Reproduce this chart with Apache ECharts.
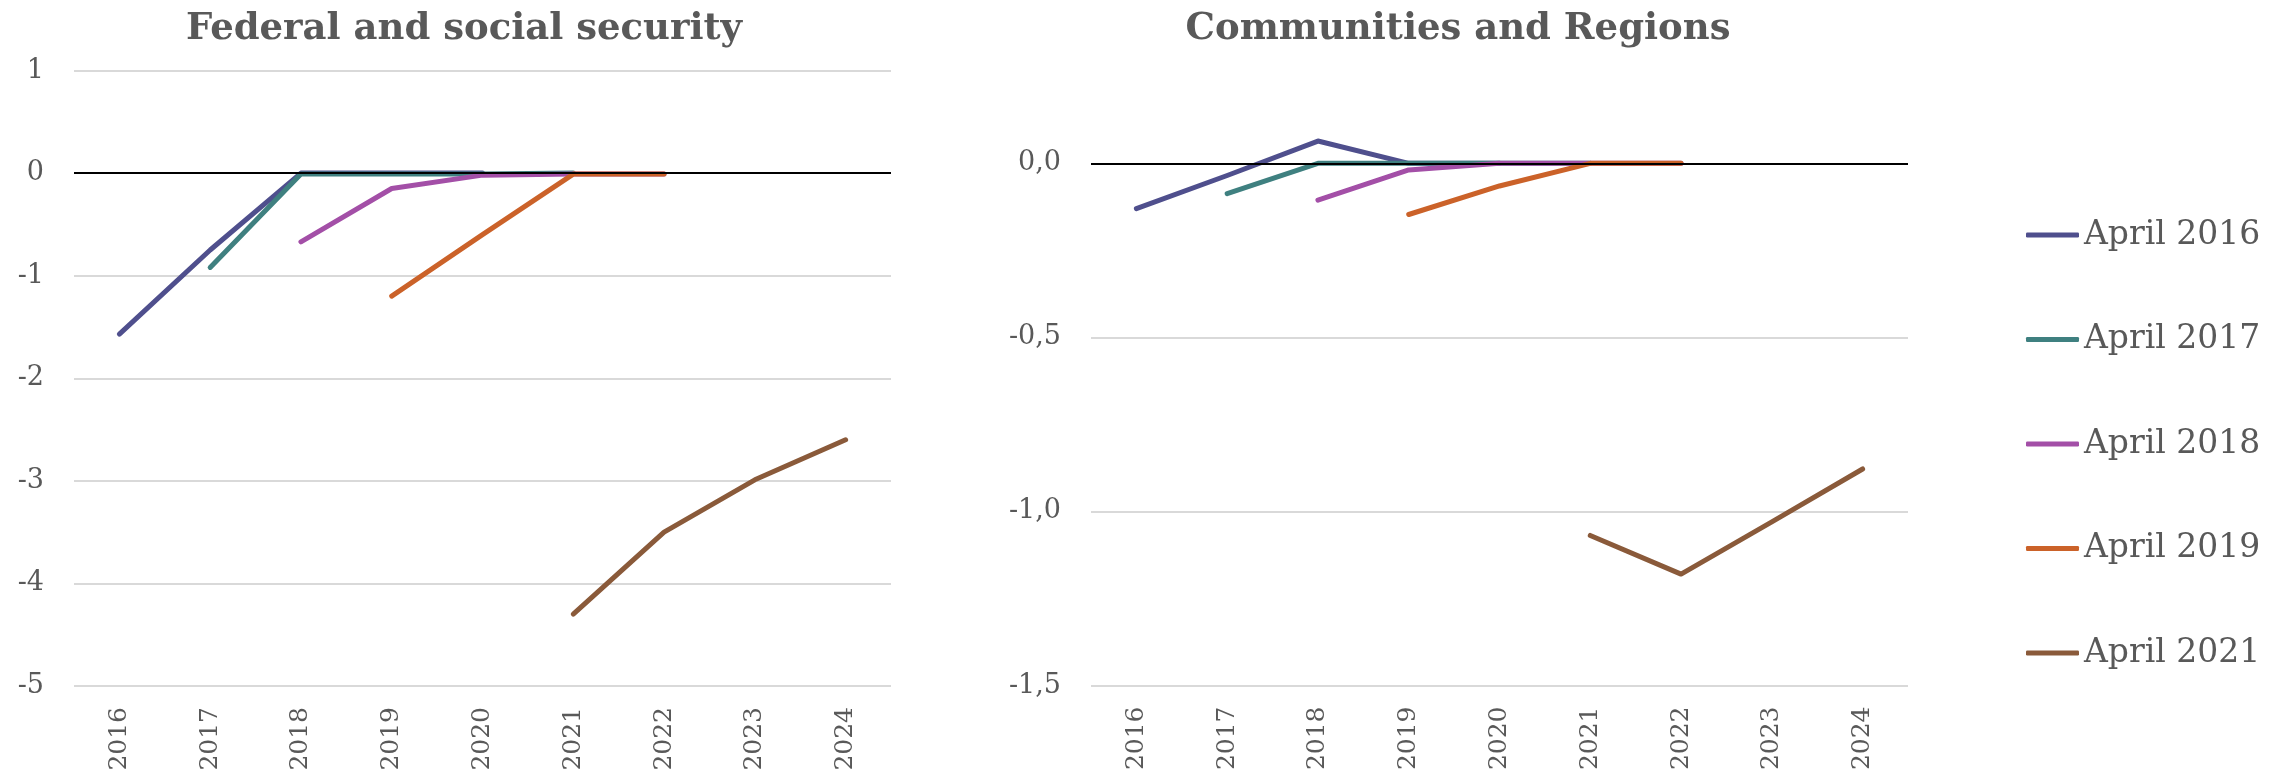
<!DOCTYPE html>
<html>
<head>
<meta charset="utf-8">
<script src="https://cdn.jsdelivr.net/npm/echarts@6/dist/echarts.min.js"></script>
<style>
  html, body { margin: 0; padding: 0; background: #fff; }
  #main { width: 2288px; height: 781px; }
</style>
</head>
<body>
<div id="main"></div>
<script>
// years on the x axis
var years = ['2016', '2017', '2018', '2019', '2020', '2021', '2022', '2023', '2024'];
var seriesNames = ['April 2016', 'April 2017', 'April 2018', 'April 2019', 'April 2021'];
var colors = ['#4F4F8D', '#3F8080', '#A34FA7', '#CB6229', '#8A5A3A'];

// Federal and social security
var fedApr2016 = [-1.57, -0.75, 0, 0, 0, null, null, null, null];
var fedApr2017 = [null, -0.92, -0.01, -0.01, -0.01, 0, null, null, null];
var fedApr2018 = [null, null, -0.67, -0.15, -0.02, -0.01, -0.01, null, null];
var fedApr2019 = [null, null, null, -1.2, -0.6, -0.01, -0.01, null, null];
var fedApr2021 = [null, null, null, null, null, -4.3, -3.5, -2.99, -2.6];

// Communities and Regions
var regApr2016 = [-0.13, -0.035, 0.064, 0, 0, null, null, null, null];
var regApr2017 = [null, -0.087, 0, 0, 0, 0, null, null, null];
var regApr2018 = [null, null, -0.106, -0.019, 0, 0, 0, null, null];
var regApr2019 = [null, null, null, -0.147, -0.065, 0, 0, null, null];
var regApr2021 = [null, null, null, null, null, -1.069, -1.18, -1.03, -0.878];

var fedData = [fedApr2016, fedApr2017, fedApr2018, fedApr2019, fedApr2021];
var regData = [regApr2016, regApr2017, regApr2018, regApr2019, regApr2021];

var serif = '"DejaVu Serif", "Liberation Serif", serif';
var grey = '#595959';

function xAxisFor(idx) {
  return {
    type: 'category',
    gridIndex: idx,
    data: years,
    boundaryGap: true,
    axisLine: { show: false, onZero: false },
    axisTick: { show: false },
    axisLabel: { rotate: 90, margin: 21, color: grey, fontFamily: serif, fontSize: 25 }
  };
}

function buildSeries(list, idx) {
  var out = [];
  for (var i = 0; i < list.length; i++) {
    var s = {
      name: seriesNames[i],
      type: 'line',
      xAxisIndex: idx,
      yAxisIndex: idx,
      data: list[i],
      symbol: 'none',
      connectNulls: false,
      color: colors[i],
      lineStyle: { width: 5, cap: 'round', join: 'round', color: colors[i] }
    };
    if (i === 0) {
      // black zero line across the plot
      s.markLine = {
        silent: true,
        symbol: ['none', 'none'],
        label: { show: false },
        lineStyle: { color: '#000', width: 2, type: 'solid' },
        data: [{ yAxis: 0 }],
        animation: false
      };
    }
    out.push(s);
  }
  return out;
}

var myChart = echarts.init(document.getElementById('main'), null, { renderer: 'canvas' });
var option = {
  animation: false,
  backgroundColor: '#fff',
  graphic: [
    {
      type: 'text', x: 464, y: 29,
      style: { text: 'Federal and social security', align: 'center', verticalAlign: 'middle',
        fontFamily: serif, fontWeight: 'bold', fontSize: 37, fill: grey }
    },
    {
      type: 'text', x: 1458, y: 29,
      style: { text: 'Communities and Regions', align: 'center', verticalAlign: 'middle',
        fontFamily: serif, fontWeight: 'bold', fontSize: 37, fill: grey }
    }
  ],
  legend: {
    data: seriesNames,
    orient: 'vertical',
    left: 2026,
    top: 218,
    padding: 0,
    itemWidth: 53,
    itemHeight: 5,
    itemGap: 70.5,
    icon: 'roundRect',
    textStyle: { color: grey, fontFamily: serif, fontSize: 33, lineHeight: 34 }
  },
  grid: [
    { left: 74, width: 817, top: 70.5, height: 615.5, outerBoundsMode: 'none' },
    { left: 1091, width: 817, top: 93.7, height: 591.8, outerBoundsMode: 'none' }
  ],
  xAxis: [xAxisFor(0), xAxisFor(1)],
  yAxis: [
    {
      type: 'value', gridIndex: 0, min: -5, max: 1, interval: 1,
      axisLine: { show: false }, axisTick: { show: false },
      axisLabel: { margin: 30, color: grey, fontFamily: serif, fontSize: 27 },
      splitLine: { lineStyle: { color: '#D9D9D9', width: 2 } }
    },
    {
      type: 'value', gridIndex: 1, min: -1.5, max: 0.2, interval: 0.5,
      axisLine: { show: false }, axisTick: { show: false },
      axisLabel: {
        margin: 30, color: grey, fontFamily: serif, fontSize: 27, showMaxLabel: false,
        formatter: function (v) { return v.toFixed(1).replace('.', ','); }
      },
      splitLine: { showMaxLine: false, lineStyle: { color: '#D9D9D9', width: 2 } }
    }
  ],
  series: buildSeries(fedData, 0).concat(buildSeries(regData, 1))
};
myChart.setOption(option);
window.onresize = myChart.resize;
</script>
</body>
</html>
